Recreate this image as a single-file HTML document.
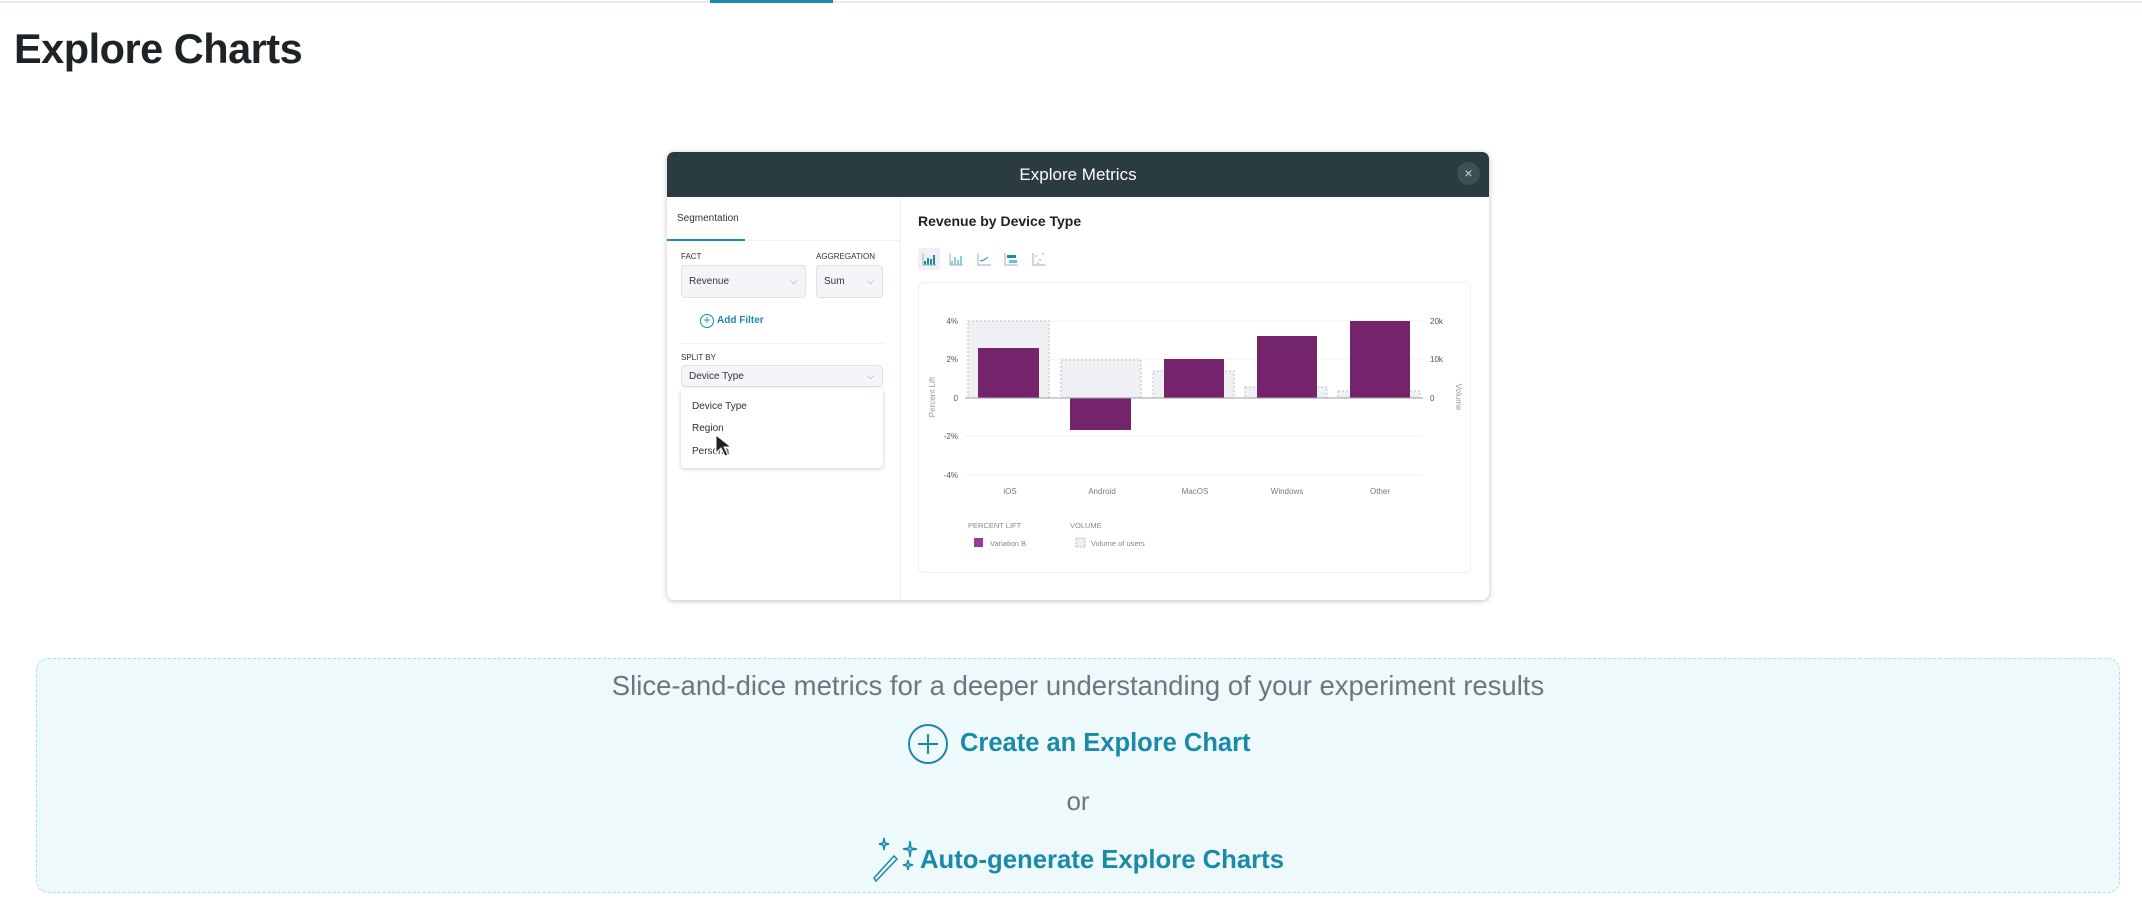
<!DOCTYPE html>
<html><head><meta charset="utf-8"><style>
*{margin:0;padding:0;box-sizing:border-box}
body{width:2142px;height:914px;background:#fff;position:relative;overflow:hidden;font-family:"Liberation Sans",sans-serif}
.a{position:absolute;white-space:nowrap}
.sel{position:absolute;background:#f3f5f8;border:1px solid #dde2e8;border-radius:4px;font-size:10px;color:#333;padding-left:7px;display:flex;align-items:center}
.lbl{position:absolute;font-size:8px;color:#333;letter-spacing:0}
</style></head><body>
<div class="a" style="left:0;top:1px;width:2142px;height:2px;background:#e8ecf0"></div>
<div class="a" style="left:710px;top:0;width:123px;height:3px;background:#1a8aa8"></div>
<div class="a" style="left:14px;top:25px;font-size:41.5px;font-weight:bold;color:#1e2327;letter-spacing:-0.5px">Explore Charts</div>

<!-- modal -->
<div class="a" style="left:667px;top:152px;width:822px;height:448px;background:#fff;border-radius:7px;box-shadow:0 1px 6px rgba(0,0,0,.25);overflow:hidden">
  <div class="a" style="left:0;top:0;width:822px;height:45px;background:#2b3c41"></div>
  <div class="a" style="left:0;top:13px;width:822px;text-align:center;color:#fff;font-size:17px">Explore Metrics</div>
  <div class="a" style="left:790px;top:10px;width:23px;height:23px;border-radius:50%;background:#3e5055;color:#cfd6d8;font-size:14px;text-align:center;line-height:22px">×</div>
  <div class="a" style="left:233px;top:45px;width:1px;height:403px;background:#eef0f3"></div>
  <div class="a" style="left:0;top:88px;width:233px;height:1px;background:#eef0f3"></div>
  <div class="a" style="left:0;top:87px;width:78px;height:2px;background:#1a8aa8"></div>
  <div class="a" style="left:10px;top:61px;font-size:10px;color:#333">Segmentation</div>
  <div class="lbl" style="left:14px;top:100px">FACT</div>
  <div class="lbl" style="left:149px;top:100px">AGGREGATION</div>
  <div class="sel" style="left:14px;top:113px;width:125px;height:33px">Revenue<span style="position:absolute;right:8px;color:#888;font-size:9px">⌵</span></div>
  <div class="sel" style="left:149px;top:113px;width:67px;height:33px">Sum<span style="position:absolute;right:8px;color:#888;font-size:9px">⌵</span></div>
  <div class="a" style="left:33px;top:162px;width:14px;height:14px;border:1px solid #1a8aa8;border-radius:50%;color:#1a8aa8;font-size:12px;line-height:11px;text-align:center">+</div>
  <div class="a" style="left:50px;top:163px;font-size:10px;font-weight:bold;color:#1a8aa8">Add Filter</div>
  <div class="a" style="left:14px;top:191px;width:202px;height:1px;background:#eef0f3"></div>
  <div class="lbl" style="left:14px;top:201px">SPLIT BY</div>
  <div class="sel" style="left:14px;top:213px;width:202px;height:22px">Device Type<span style="position:absolute;right:8px;color:#888;font-size:9px">⌵</span></div>
  <div class="a" style="left:14px;top:236px;width:202px;height:80px;background:#fff;border-radius:4px;box-shadow:0 1px 4px rgba(0,0,0,.2)"></div>
  <div class="a" style="left:25px;top:249px;font-size:10px;color:#333">Device Type</div>
  <div class="a" style="left:25px;top:271px;font-size:10px;color:#333">Region</div>
  <div class="a" style="left:25px;top:294px;font-size:10px;color:#333">Persona</div>
  <svg class="a" style="left:48px;top:282px" width="20" height="24"><path d="M1 1 L1 19 L6 14 L10 22 L13 21 L9 13 L16 13 Z" fill="#222" stroke="#fff" stroke-width="1"/></svg>
  <div class="a" style="left:251px;top:61px;font-size:14px;font-weight:bold;color:#222">Revenue by Device Type</div>
</div>
<!-- icons -->
<div class="a" style="left:918px;top:248px;width:22px;height:22px;background:#eef0f3;border-radius:3px"></div>
<svg class="a" style="left:918px;top:248px" width="140" height="22">
 <g fill="#1a8aa8"><rect x="6" y="13" width="2" height="4"/><rect x="9" y="10" width="2" height="7"/><rect x="12" y="11" width="2" height="6"/><rect x="15" y="7" width="2" height="10"/></g>
 <g fill="#8fd0e0"><rect x="33" y="13" width="2" height="4"/><rect x="36" y="9" width="2" height="8"/><rect x="39" y="12" width="2" height="5"/><rect x="42" y="8" width="2" height="9"/></g>
 <g stroke="#aab" fill="none"><path d="M5 5V17H18M32 5V17H45M60 5V17H73M87 5V17H100M115 5V17H128"/></g>
 <path d="M62 13L66 12L70 9" stroke="#1a8aa8" fill="none"/>
 <rect x="89" y="7" width="9" height="3" fill="#1a8aa8"/><rect x="91" y="12" width="8" height="3" fill="#5fc2da"/>
 <g fill="#8fd0e0"><circle cx="118" cy="8" r="1"/><circle cx="122" cy="12" r="1"/><circle cx="125" cy="6" r="1"/><circle cx="120" cy="15" r="1"/></g>
</svg>
<!-- chart card -->
<div class="a" style="left:918px;top:282px;width:553px;height:291px;border:1px solid #eef0f3;border-radius:6px"></div>
<svg class="a" style="left:0;top:0" width="2142" height="914" font-family="Liberation Sans, sans-serif">
 <g stroke="#eef0f3"><line x1="965" x2="1423" y1="321" y2="321"/><line x1="965" x2="1423" y1="359" y2="359"/><line x1="965" x2="1423" y1="436" y2="436"/><line x1="965" x2="1423" y1="475" y2="475"/></g>
 <g fill="#eef0f4" stroke="#b9bec6" stroke-dasharray="2,2" stroke-width="1">
  <rect x="968" y="321" width="81" height="77"/><rect x="1061" y="360" width="80" height="38"/><rect x="1153" y="371" width="81" height="27"/><rect x="1245" y="387" width="82" height="11"/><rect x="1338" y="391" width="82" height="7"/>
 </g>
 <g fill="#74246b">
  <rect x="978" y="348" width="61" height="50"/><rect x="1070" y="398" width="61" height="32"/><rect x="1164" y="359" width="60" height="39"/><rect x="1257" y="336" width="60" height="62"/><rect x="1350" y="321" width="60" height="77"/>
 </g>
 <line x1="965" x2="1423" y1="398" y2="398" stroke="#9aa0a8"/>
 <g font-size="8" fill="#555" text-anchor="end"><text x="958" y="324">4%</text><text x="958" y="362">2%</text><text x="958" y="401">0</text><text x="958" y="439">-2%</text><text x="958" y="478">-4%</text></g>
 <g font-size="8" fill="#555"><text x="1430" y="324">20k</text><text x="1430" y="362">10k</text><text x="1430" y="401">0</text></g>
 <g font-size="8" fill="#777" text-anchor="middle"><text x="1010" y="494">iOS</text><text x="1102" y="494">Android</text><text x="1195" y="494">MacOS</text><text x="1287" y="494">Windows</text><text x="1380" y="494">Other</text></g>
 <text x="0" y="0" font-size="8" fill="#999" text-anchor="middle" transform="translate(935,397) rotate(-90)">Percent Lift</text>
 <text x="0" y="0" font-size="8" fill="#999" text-anchor="middle" transform="translate(1456,397) rotate(90)">Volume</text>
 <g font-size="7.5" fill="#888"><text x="968" y="528">PERCENT LIFT</text><text x="1070" y="528">VOLUME</text><text x="990" y="546">Variation B</text><text x="1091" y="546">Volume of users</text></g>
 <rect x="974" y="538" width="9" height="9" fill="#9c3a8f"/>
 <rect x="1076" y="538" width="9" height="9" fill="#eef0f4" stroke="#b9bec6" stroke-dasharray="2,1"/>
</svg>

<!-- bottom box -->
<div class="a" style="left:36px;top:658px;width:2084px;height:235px;background:#eef9fc;border:1.5px dashed #a8e0ef;border-radius:12px"></div>
<div class="a" style="left:36px;top:670px;width:2084px;text-align:center;font-size:27.5px;color:#6b7780">Slice-and-dice metrics for a deeper understanding of your experiment results</div>
<div class="a" style="left:908px;top:724px;width:40px;height:40px;border:2px solid #1a8aa8;border-radius:50%"></div>
<div class="a" style="left:918px;top:743px;width:20px;height:2px;background:#1a8aa8"></div>
<div class="a" style="left:927px;top:734px;width:2px;height:20px;background:#1a8aa8"></div>
<div class="a" style="left:960px;top:729px;font-size:25.5px;font-weight:bold;color:#1a8aa8">Create an Explore Chart</div>
<div class="a" style="left:36px;top:786px;width:2084px;text-align:center;font-size:26px;color:#6b7780">or</div>
<svg class="a" style="left:872px;top:836px" width="48" height="48"><g stroke="#1a8aa8" fill="none" stroke-width="1.5"><path d="M4 45 L2 42 L22 20 L25 23 Z"/><path d="M12 2 L13 7 L17 8 L13 9 L12 14 L11 9 L7 8 L11 7Z"/><path d="M38 5 L39 12 L45 13 L39 14 L38 21 L37 14 L31 13 L37 12Z"/><path d="M36 24 L37 28 L41 29 L37 30 L36 34 L35 30 L31 29 L35 28Z"/></g></svg>
<div class="a" style="left:920px;top:846px;font-size:25.7px;font-weight:bold;color:#1a8aa8">Auto-generate Explore Charts</div>
</body></html>
